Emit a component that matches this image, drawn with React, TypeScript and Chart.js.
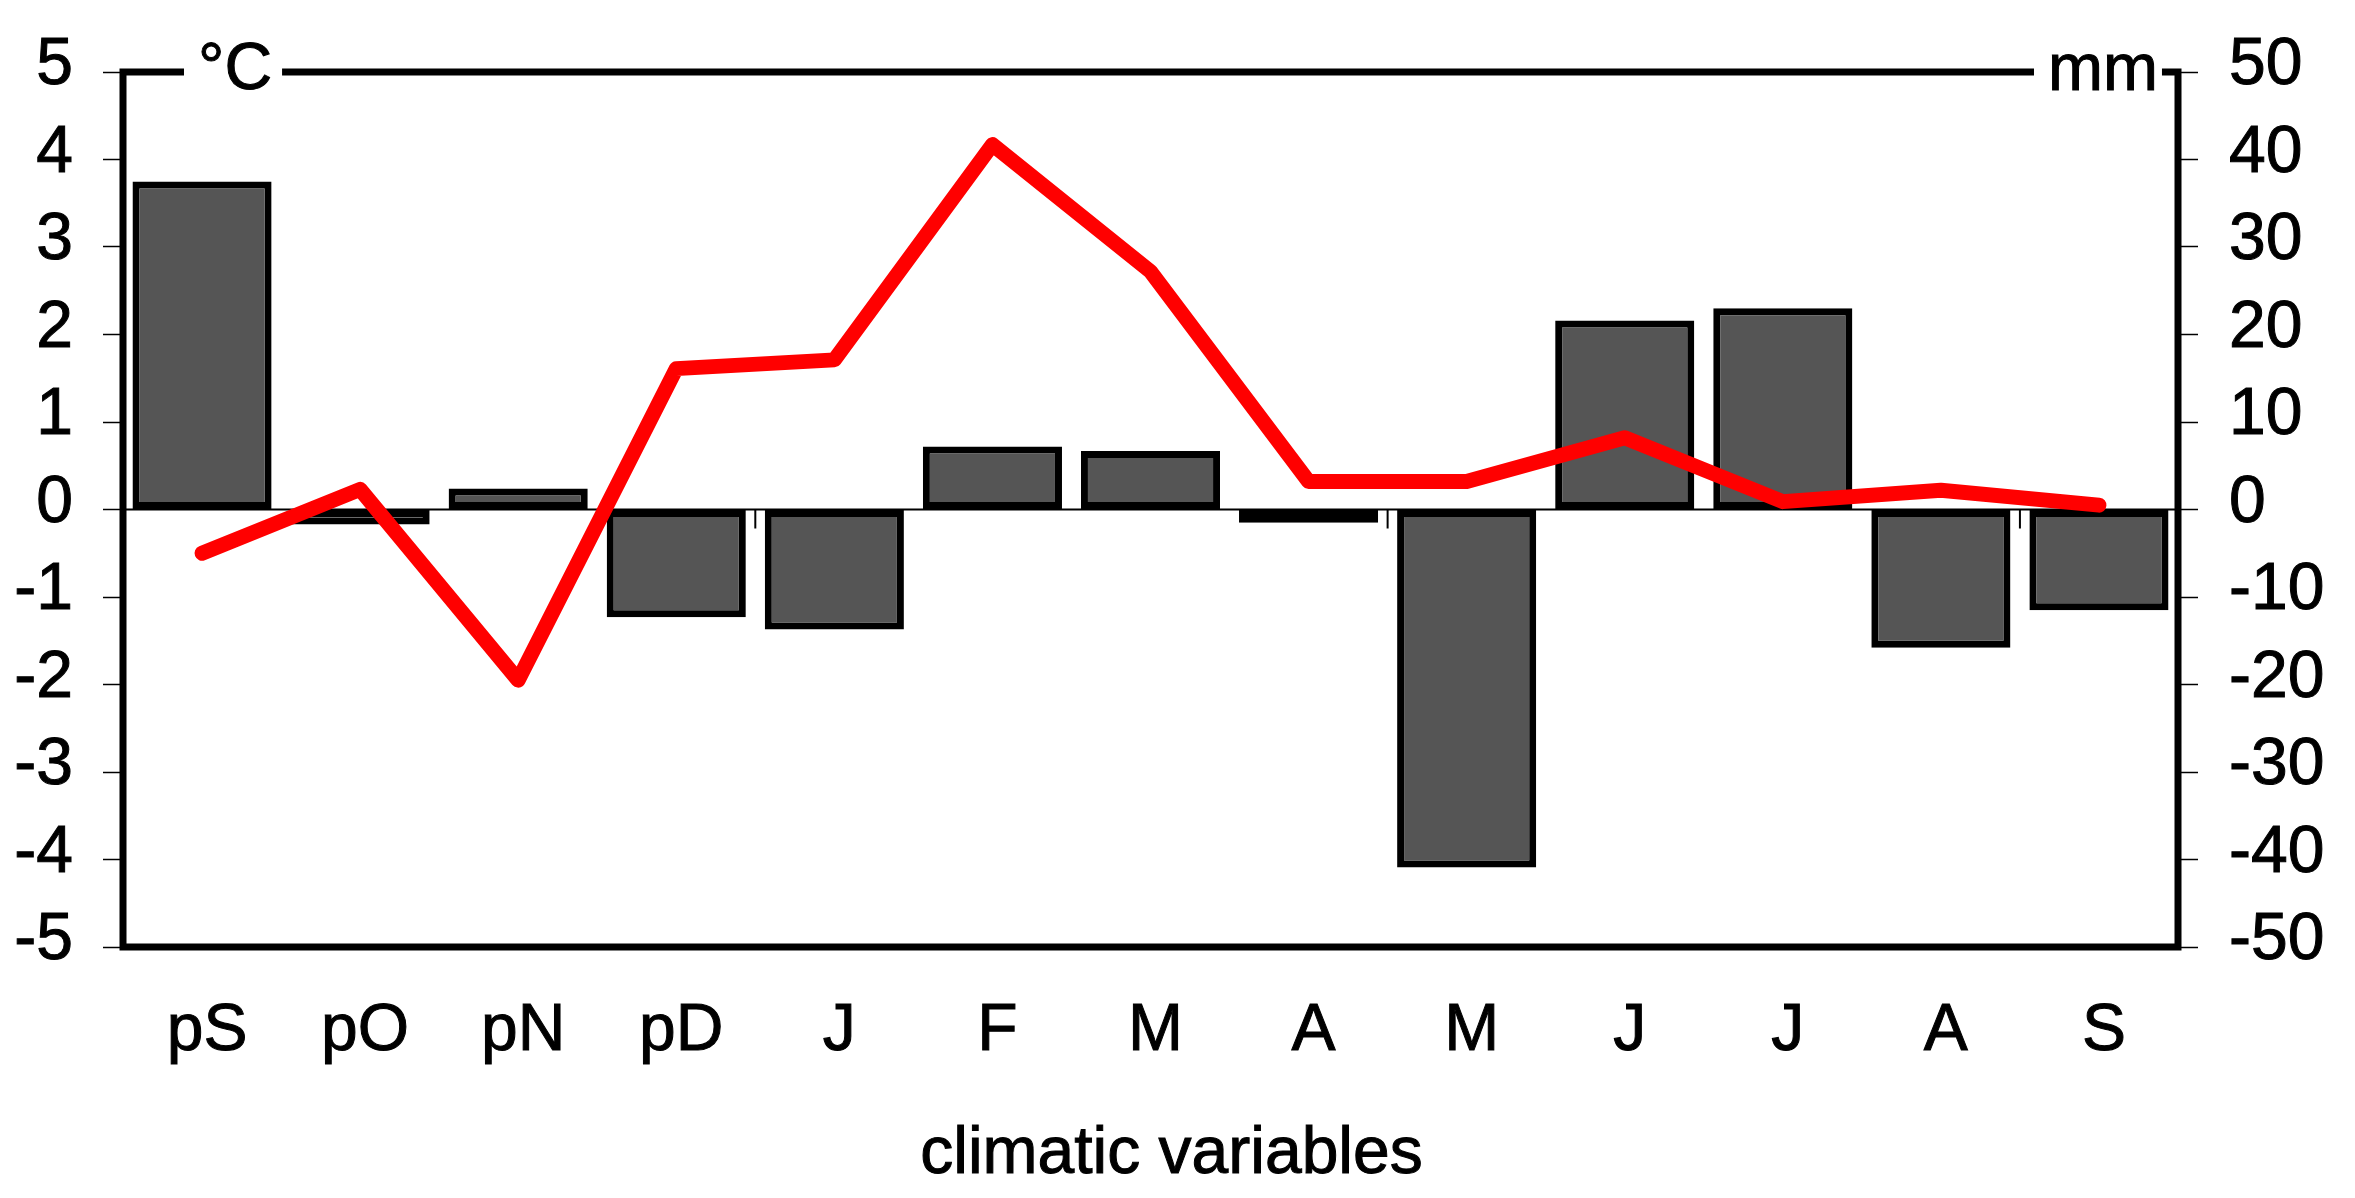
import React, { useEffect, useRef } from 'react';
import { Chart, registerables } from 'chart.js';

Chart.register(...registerables);

// ---- data ----
const categories = ['pS', 'pO', 'pN', 'pD', 'J', 'F', 'M', 'A', 'M', 'J', 'J', 'A', 'S'];
const temperatureBars = [3.75, -0.17, 0.24, -1.23, -1.37, 0.72, 0.67, -0.15, -4.09, 2.16, 2.3, -1.58, -1.15];
const precipitationLine = [-5.0, 2.3, -19.5, 16.1, 17.1, 41.7, 27.2, 3.2, 3.2, 8.2, 0.9, 2.2, 0.5];
const leftAxisRange = [-5, 5];
const leftAxisStep = 1;
const rightAxisRange = [-50, 50];
const rightAxisStep = 10;
const leftUnit = '°C';
const rightUnit = 'mm';
const xTitle = 'climatic variables';
const categoryTickInterval = 4;

const FONT = '"Liberation Sans", Arial, Helvetica, sans-serif';

function heavyText(ctx: CanvasRenderingContext2D, t: string, x: number, y: number) {
  ctx.fillText(t, x, y);
  ctx.strokeText(t, x, y);
}

const framePlugin = {
  id: 'framePlugin',
  beforeDatasetsDraw(chart: any) {
    const { ctx, chartArea: a, scales } = chart;
    const y0 = scales.y.getPixelForValue(0);
    ctx.save();
    ctx.strokeStyle = '#000';
    ctx.lineWidth = 2;
    ctx.beginPath();
    ctx.moveTo(a.left, y0);
    ctx.lineTo(a.right, y0);
    ctx.stroke();
    for (let k = 0; k <= categories.length; k += categoryTickInterval) {
      const x = scales.x.getPixelForValue(k - 0.5);
      ctx.beginPath();
      ctx.moveTo(x, y0);
      ctx.lineTo(x, y0 + 19);
      ctx.stroke();
    }
    ctx.restore();
  },
  afterDraw(chart: any) {
    const { ctx, chartArea: a } = chart;
    ctx.save();
    ctx.strokeStyle = '#000';
    ctx.lineJoin = 'miter';
    ctx.lineWidth = 7;
    ctx.strokeRect(a.left, a.top, a.right - a.left, a.bottom - a.top);

    ctx.font = `66px ${FONT}`;
    ctx.textBaseline = 'alphabetic';
    ctx.lineWidth = 1;
    ctx.strokeStyle = '#000';
    // left unit on the top border
    ctx.textAlign = 'left';
    const lx = a.left + 75;
    const lw = ctx.measureText(leftUnit).width;
    ctx.fillStyle = '#fff';
    ctx.fillRect(lx - 14, a.top - 6, lw + 24, 12);
    ctx.fillStyle = '#000';
    heavyText(ctx, leftUnit, lx, a.top + 17);
    // right unit on the top border
    const rw = ctx.measureText(rightUnit).width;
    const rx = a.right - 130;
    ctx.fillStyle = '#fff';
    ctx.fillRect(rx - 14, a.top - 6, rw + 18, 12);
    ctx.fillStyle = '#000';
    heavyText(ctx, rightUnit, rx, a.top + 18);
    // x title
    ctx.textAlign = 'center';
    heavyText(ctx, xTitle, (a.left + a.right) / 2 + 21, 1173);
    ctx.restore();
  },
};

export default function App() {
  const ref = useRef<HTMLCanvasElement | null>(null);

  useEffect(() => {
    document.body.style.margin = '0';
    const canvas = ref.current;
    if (!canvas) return;
    Chart.defaults.font.family = FONT;
    Chart.defaults.color = '#000';

    const tickText = { textStrokeColor: '#000', textStrokeWidth: 1 };

    const chart = new Chart(canvas, {
      type: 'bar',
      data: {
        labels: categories,
        datasets: [
          {
            type: 'line',
            data: precipitationLine,
            yAxisID: 'y1',
            borderColor: '#ff0000',
            borderWidth: 15,
            borderJoinStyle: 'round',
            borderCapStyle: 'round',
            pointRadius: 0,
            tension: 0,
            fill: false,
            clip: false,
            order: 0,
          } as any,
          {
            type: 'bar',
            data: temperatureBars,
            yAxisID: 'y',
            backgroundColor: '#555555',
            borderColor: '#000000',
            borderWidth: 7,
            borderSkipped: false,
            categoryPercentage: 0.88,
            barPercentage: 1.0,
            order: 1,
          } as any,
        ],
      },
      options: {
        responsive: false,
        animation: false,
        layout: { padding: { top: 72, left: 0, right: 0, bottom: 0 } },
        plugins: {
          legend: { display: false },
          tooltip: { enabled: false },
          title: { display: false },
        },
        scales: {
          x: {
            type: 'category',
            offset: true,
            grid: { display: false },
            border: { display: false },
            ticks: {
              font: { size: 66 },
              color: '#000',
              padding: 37,
              labelOffset: 5,
              maxRotation: 0,
              autoSkip: false,
              ...tickText,
            },
            afterFit: (s: any) => {
              s.height = 251;
            },
          },
          y: {
            type: 'linear',
            position: 'left',
            min: leftAxisRange[0],
            max: leftAxisRange[1],
            grid: {
              drawOnChartArea: false,
              drawTicks: true,
              tickLength: 20,
              tickWidth: 1.5,
              tickColor: '#000',
            },
            border: { display: false },
            ticks: {
              stepSize: leftAxisStep,
              font: { size: 66 },
              color: '#000',
              padding: 30,
              labelOffset: -6,
              ...tickText,
            },
            afterFit: (s: any) => {
              s.width = 123;
            },
          },
          y1: {
            type: 'linear',
            position: 'right',
            min: rightAxisRange[0],
            max: rightAxisRange[1],
            grid: {
              drawOnChartArea: false,
              drawTicks: true,
              tickLength: 20,
              tickWidth: 1.5,
              tickColor: '#000',
            },
            border: { display: false },
            ticks: {
              stepSize: rightAxisStep,
              font: { size: 66 },
              color: '#000',
              padding: 31,
              labelOffset: -6,
              ...tickText,
            },
            afterFit: (s: any) => {
              s.width = 177;
            },
          },
        },
      } as any,
      plugins: [framePlugin],
    });
    return () => chart.destroy();
  }, []);

  return (
    <div style={{ width: 2355, height: 1198, background: '#fff' }}>
      <canvas ref={ref} width={2355} height={1198} style={{ display: 'block', width: 2355, height: 1198 }} />
    </div>
  );
}
